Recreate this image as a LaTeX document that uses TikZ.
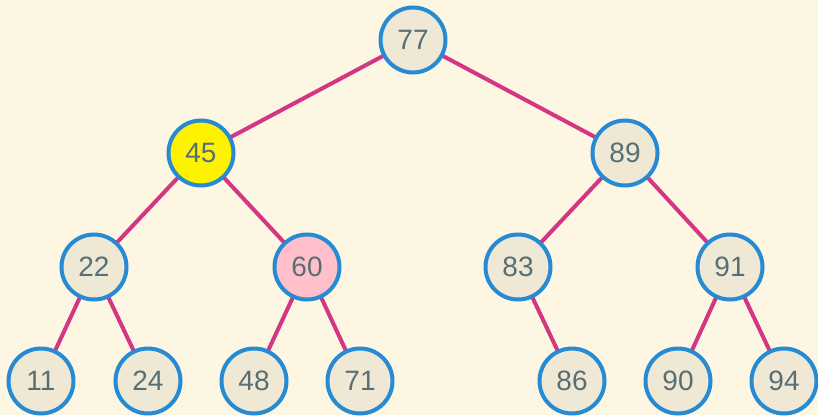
\documentclass[tikz,border=0pt]{standalone}
\usepackage{fontspec}
\setmainfont{Liberation Sans}
\definecolor{bgc}{HTML}{FDF6E3}
\definecolor{fillc}{HTML}{EEE8D5}
\definecolor{bordc}{HTML}{268BD2}
\definecolor{edgec}{HTML}{D33682}
\definecolor{textc}{HTML}{586E75}
\definecolor{hlyellow}{HTML}{FFF200}
\definecolor{hlpink}{HTML}{FFC0CB}
\begin{document}
\begin{tikzpicture}[x=1pt,y=-1pt,
  treenode/.style={circle,draw=bordc,line width=4pt,fill=fillc,minimum size=65pt,inner sep=0pt,text=textc,font=\fontsize{28}{28}\selectfont},
  link/.style={draw=edgec,line width=4pt}]
\fill[bgc] (0,0) rectangle (818,415);
\useasboundingbox (0,0) rectangle (818,415);
\coordinate (p77) at (413,40);
\coordinate (p45) at (201,153);
\coordinate (p89) at (625,153);
\coordinate (p22) at (94,267);
\coordinate (p60) at (307,267);
\coordinate (p83) at (518,267);
\coordinate (p91) at (730,267);
\coordinate (p11) at (41,381);
\coordinate (p24) at (148,381);
\coordinate (p48) at (254,381);
\coordinate (p71) at (360,381);
\coordinate (p86) at (572,381);
\coordinate (p90) at (678,381);
\coordinate (p94) at (784,381);
\draw[link] (p77)--(p45) (p77)--(p89) (p45)--(p22) (p45)--(p60) (p89)--(p83) (p89)--(p91)
  (p22)--(p11) (p22)--(p24) (p60)--(p48) (p60)--(p71) (p83)--(p86) (p91)--(p90) (p91)--(p94);
\node[treenode] (n77) at (p77) {77};
\node[treenode,fill=hlyellow] (n45) at (p45) {45};
\node[treenode] (n89) at (p89) {89};
\node[treenode] (n22) at (p22) {22};
\node[treenode,fill=hlpink] (n60) at (p60) {60};
\node[treenode] (n83) at (p83) {83};
\node[treenode] (n91) at (p91) {91};
\node[treenode] (n11) at (p11) {11};
\node[treenode] (n24) at (p24) {24};
\node[treenode] (n48) at (p48) {48};
\node[treenode] (n71) at (p71) {71};
\node[treenode] (n86) at (p86) {86};
\node[treenode] (n90) at (p90) {90};
\node[treenode] (n94) at (p94) {94};
\end{tikzpicture}
\end{document}
